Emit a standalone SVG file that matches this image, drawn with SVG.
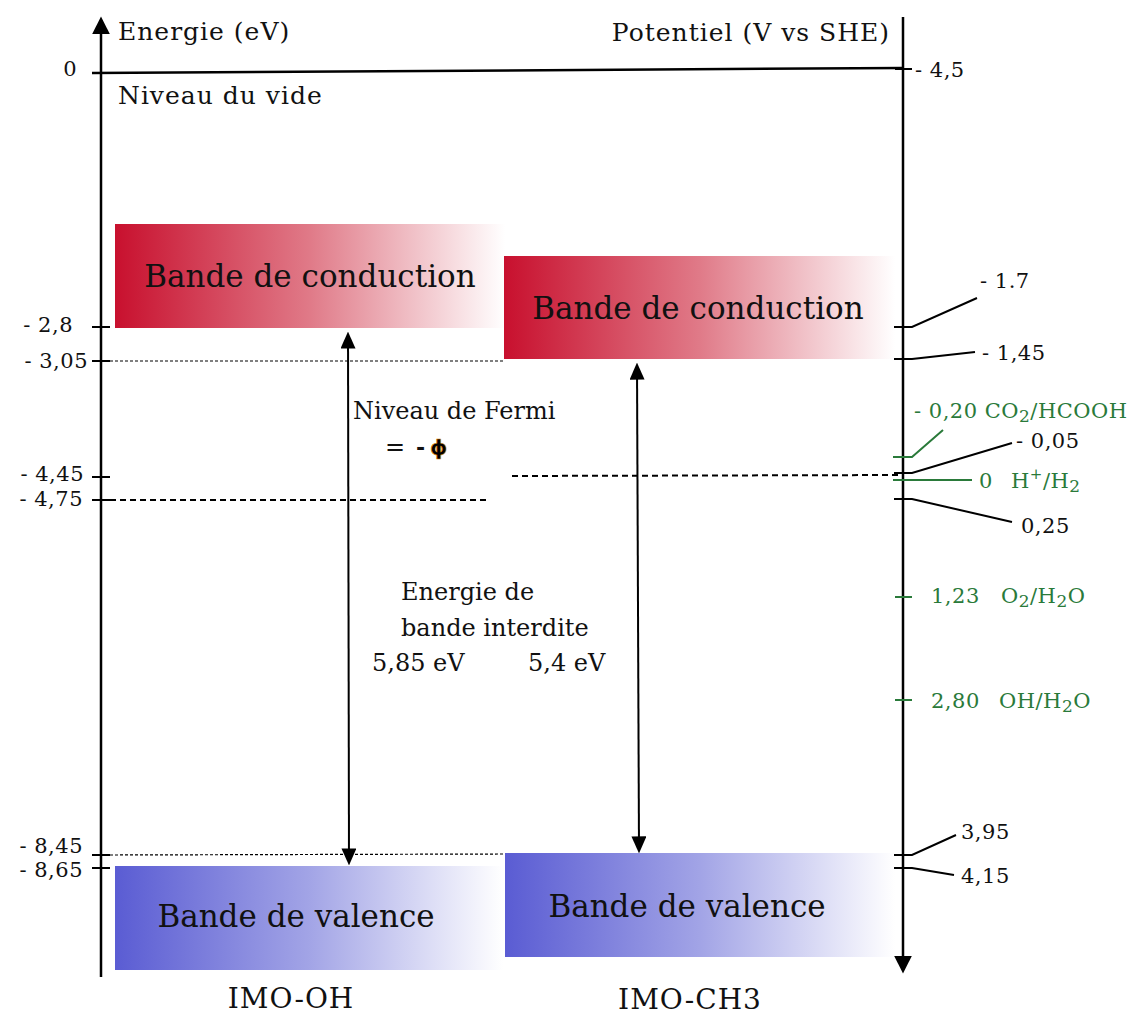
<svg xmlns="http://www.w3.org/2000/svg" width="1143" height="1014" viewBox="0 0 1143 1014">
<defs>
<linearGradient id="gRed" x1="0" y1="0" x2="1" y2="0">
<stop offset="0" stop-color="#c8102e"/>
<stop offset="0.5" stop-color="#e07a88"/>
<stop offset="1" stop-color="#ffffff"/>
</linearGradient>
<linearGradient id="gBlue" x1="0" y1="0" x2="1" y2="0">
<stop offset="0" stop-color="#5a5cd3"/>
<stop offset="0.5" stop-color="#a2a4e6"/>
<stop offset="1" stop-color="#ffffff"/>
</linearGradient>
<marker id="bigHead" viewBox="0 0 10 10" refX="8" refY="5" markerUnits="userSpaceOnUse" markerWidth="18" markerHeight="18" orient="auto-start-reverse">
<path d="M0,0 L10,5 L0,10 z" fill="#000"/>
</marker>
<marker id="head" viewBox="0 0 10 10" refX="8" refY="5" markerUnits="userSpaceOnUse" markerWidth="17" markerHeight="15" orient="auto-start-reverse" preserveAspectRatio="none">
<path d="M0,0 L10,5 L0,10 z" fill="#000"/>
</marker>
<style>
text { font-family: "DejaVu Serif", "Liberation Serif", serif; fill: #111; }
.axis { stroke: #000; stroke-width: 2.5; fill: none; }
.tick { stroke: #000; stroke-width: 2; fill: none; }
.gtick { stroke: #2a7a3a; stroke-width: 2; fill: none; }
.lead { stroke: #000; stroke-width: 2; fill: none; }
.glead { stroke: #2a7a3a; stroke-width: 2; fill: none; }
.fine { stroke: #000; stroke-width: 1.2; stroke-dasharray: 3 2; fill: none; }
.dash { stroke: #000; stroke-width: 2; stroke-dasharray: 6 4; fill: none; }
.lbl { font-size: 21px; letter-spacing: 0.5px; }
.glbl { font-size: 21px; letter-spacing: 0.5px; fill: #2a7a3a; }
.title { font-size: 25px; letter-spacing: 1px; }
.band { font-size: 31px; }
.mid { font-size: 24px; }
.name { font-size: 28px; letter-spacing: 1px; }
</style>
</defs>
<rect width="1143" height="1014" fill="#ffffff"/>

<g id="band-cb-oh">
<rect x="115" y="224" width="390" height="104" fill="url(#gRed)"/>
<text class="band" x="310" y="287" text-anchor="middle">Bande de conduction</text>
</g>
<g id="band-cb-ch3">
<rect x="504" y="256" width="391" height="103" fill="url(#gRed)"/>
<text class="band" x="698" y="319" text-anchor="middle">Bande de conduction</text>
</g>
<g id="band-vb-oh">
<rect x="115" y="866" width="388" height="104" fill="url(#gBlue)"/>
<text class="band" x="296" y="927" text-anchor="middle">Bande de valence</text>
</g>
<g id="band-vb-ch3">
<rect x="505" y="853" width="390" height="104" fill="url(#gBlue)"/>
<text class="band" x="687" y="917" text-anchor="middle">Bande de valence</text>
</g>

<g id="axes">
<line class="axis" x1="101" y1="977" x2="101" y2="20" marker-end="url(#bigHead)"/>
<line class="axis" x1="903" y1="17" x2="903" y2="970" marker-end="url(#bigHead)"/>
<line class="axis" x1="92" y1="73" x2="903" y2="68"/>
<text class="title" x="118" y="40">Energie (eV)</text>
<text class="title" x="118" y="104">Niveau du vide</text>
<text class="title" x="890" y="41" text-anchor="end">Potentiel (V vs SHE)</text>
<text class="lbl" x="77" y="76" text-anchor="end">0</text>
</g>

<g id="left-scale">
<line class="tick" x1="92" y1="327" x2="110" y2="327"/>
<line class="tick" x1="92" y1="361" x2="110" y2="361"/>
<line class="tick" x1="92" y1="477" x2="110" y2="477"/>
<line class="tick" x1="92" y1="500" x2="110" y2="500"/>
<line class="tick" x1="92" y1="855" x2="110" y2="855"/>
<line class="tick" x1="92" y1="868" x2="110" y2="868"/>
<text class="lbl" x="73" y="332" text-anchor="end">- 2,8</text>
<text class="lbl" x="88" y="368" text-anchor="end">- 3,05</text>
<text class="lbl" x="84" y="481" text-anchor="end">- 4,45</text>
<text class="lbl" x="83" y="506" text-anchor="end">- 4,75</text>
<text class="lbl" x="83" y="853" text-anchor="end">- 8,45</text>
<text class="lbl" x="83" y="877" text-anchor="end">- 8,65</text>
</g>

<g id="connectors">
<line class="fine" x1="110" y1="361" x2="504" y2="361"/>
<line class="dash" x1="110" y1="500" x2="490" y2="500"/>
<line class="dash" x1="512" y1="476" x2="903" y2="475"/>
<line class="fine" x1="110" y1="855" x2="505" y2="854"/>
<line stroke="#000" stroke-width="2" x1="348" y1="335" x2="349" y2="862" marker-start="url(#head)" marker-end="url(#head)"/>
<line stroke="#000" stroke-width="2" x1="637" y1="366" x2="639" y2="850" marker-start="url(#head)" marker-end="url(#head)"/>
</g>

<g id="fermi-label">
<text class="mid" x="353" y="419">Niveau de Fermi</text>
<text class="mid" x="385" y="455">=</text>
<text x="416" y="455" style="font-size:22px;font-weight:bold;font-family:'DejaVu Sans',sans-serif">-</text>
<text x="430" y="455" style="font-size:22px;font-weight:bold;font-family:'DejaVu Sans',sans-serif;fill:#000;stroke:#e08a00;stroke-width:0.6">ϕ</text>
</g>

<g id="gap-label">
<text class="mid" x="401" y="600">Energie de</text>
<text class="mid" x="401" y="636">bande interdite</text>
<text class="mid" x="372" y="671">5,85 eV</text>
<text class="mid" x="528" y="671">5,4 eV</text>
</g>

<g id="right-scale">
<line class="tick" x1="895" y1="69" x2="912" y2="69"/>
<text class="lbl" x="915" y="77">- 4,5</text>

<polyline class="lead" points="894,327 912,327 977,298"/>
<text class="lbl" x="980" y="288">- 1.7</text>

<polyline class="lead" points="894,359 912,359 975,352"/>
<text class="lbl" x="982" y="360">- 1,45</text>

<polyline class="glead" points="893,457 912,457 943,430"/>
<text class="glbl" x="914" y="418">- 0,20 CO<tspan font-size="17" dy="4">2</tspan><tspan dy="-4">/HCOOH</tspan></text>

<polyline class="lead" points="894,473 912,473 1012,443"/>
<text class="lbl" x="1016" y="448">- 0,05</text>

<line class="glead" x1="893" y1="480" x2="972" y2="480"/>
<text class="glbl" x="979" y="488">0<tspan x="1011">H</tspan><tspan font-size="15" dy="-9">+</tspan><tspan dy="9">/H</tspan><tspan font-size="17" dy="4">2</tspan></text>

<polyline class="lead" points="894,499 912,499 1012,522"/>
<text class="lbl" x="1021" y="533">0,25</text>

<line class="gtick" x1="895" y1="597" x2="912" y2="597"/>
<text class="glbl" x="931" y="603">1,23</text>
<text class="glbl" x="1001" y="603">O<tspan font-size="17" dy="4">2</tspan><tspan dy="-4">/H</tspan><tspan font-size="17" dy="4">2</tspan><tspan dy="-4">O</tspan></text>

<line class="gtick" x1="895" y1="700" x2="912" y2="700"/>
<text class="glbl" x="931" y="708">2,80</text>
<text class="glbl" x="999" y="708">OH/H<tspan font-size="17" dy="4">2</tspan><tspan dy="-4">O</tspan></text>

<polyline class="lead" points="894,855 912,855 956,835"/>
<text class="lbl" x="961" y="839">3,95</text>

<polyline class="lead" points="894,868 912,868 954,875"/>
<text class="lbl" x="961" y="883">4,15</text>
</g>

<g id="labels-bottom">
<text class="name" x="291" y="1008" text-anchor="middle">IMO-OH</text>
<text class="name" x="690" y="1009" text-anchor="middle">IMO-CH3</text>
</g>
</svg>
